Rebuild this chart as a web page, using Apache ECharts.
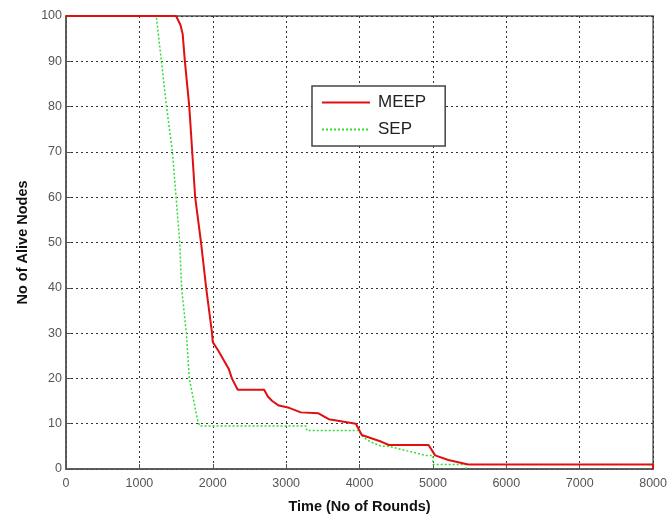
<!DOCTYPE html>
<html><head><meta charset="utf-8">
<script src="https://cdn.jsdelivr.net/npm/echarts@6/dist/echarts.min.js"></script>
<style>html,body{margin:0;padding:0;background:#fff}#c{width:670px;height:519px}</style>
</head><body><div id="c"></div>
<script>
var xTicks = [0,1000,2000,3000,4000,5000,6000,7000,8000];
var yTicks = [0,10,20,30,40,50,60,70,80,90,100];
var meepRounds = [0,1500,1560,1590,1620,1680,1720,1760,1840,1910,1990,2000,2080,2150,2220,2260,2340,2700,2750,2810,2900,3040,3200,3440,3580,3950,4030,4120,4300,4400,4940,5030,5210,5480,8000,8000];
var meepAlive  = [100,100,98,96,90,80,70,60,50,40,30,28,26,24,22,20,17.5,17.5,16,15,14,13.5,12.5,12.3,11,10,7.5,7,6,5.3,5.3,3,2,1,1,0];
var sepRounds = [0,1230,1300,1370,1450,1500,1550,1575,1640,1680,1790,1820,3270,3280,3990,4050,4150,4300,4400,4650,4900,5000,5000,5450,5450];
var sepAlive  = [100,100,90,80,70,60,50,40,30,20,11,9.5,9.5,8.5,8.5,7,6,5,5,4,3,3,1,1,0];

function pairs(xs, ys){ var o=[]; for(var i=0;i<xs.length;i++) o.push([xs[i],ys[i]]); return o; }

var chart = echarts.init(document.getElementById('c'), null, {renderer:'canvas'});
var tickFont = {color:'#555', fontFamily:'Liberation Sans, Arial, sans-serif', fontSize:12.5};
chart.setOption({
  animation:false,
  backgroundColor:'#fff',
  grid:{left:66,right:14,top:16,bottom:50,show:true,borderColor:'#555',borderWidth:1.5,backgroundColor:'#fff'},
  legend:{
    orient:'vertical', left:312, top:86,
    backgroundColor:'#fff', borderColor:'#444', borderWidth:1.5,
    padding:[8,19,8,9], itemGap:10, itemWidth:48, itemHeight:16,
    itemStyle:{opacity:0},
    textStyle:{color:'#222', fontSize:17, fontFamily:'Liberation Sans, Arial, sans-serif', padding:[0,0,0,3]},
    data:['MEEP','SEP']
  },
  xAxis:{
    type:'value', min:0, max:8000, interval:1000,
    name:'Time (No of Rounds)', nameLocation:'middle', nameGap:30,
    nameTextStyle:{color:'#111', fontSize:14.5, fontWeight:'bold', fontFamily:'Liberation Sans, Arial, sans-serif'},
    axisLine:{show:true,lineStyle:{color:'#555',width:1.5}},
    axisTick:{show:true,inside:true,length:5,lineStyle:{color:'#555'}},
    axisLabel:Object.assign({margin:8,formatter:function(v){return xTicks.indexOf(v)>=0?String(v):'';}},tickFont),
    splitLine:{show:true,lineStyle:{color:'#333',type:[2,3],width:1}}
  },
  yAxis:{
    type:'value', min:0, max:100, interval:10,
    name:'No of Alive Nodes', nameLocation:'middle', nameGap:29,
    nameTextStyle:{color:'#111', fontSize:14.5, fontWeight:'bold', fontFamily:'Liberation Sans, Arial, sans-serif'},
    axisLine:{show:true,lineStyle:{color:'#555',width:1.5}},
    axisTick:{show:true,inside:true,length:5,lineStyle:{color:'#555'}},
    axisLabel:Object.assign({margin:4,formatter:function(v){return yTicks.indexOf(v)>=0?String(v):'';}},tickFont),
    splitLine:{show:true,lineStyle:{color:'#333',type:[2,3],width:1}}
  },
  series:[
    {name:'SEP', type:'line', showSymbol:false, symbol:'none', z:3,
     lineStyle:{color:'#33dd33', width:1.5, type:[2,2]}, itemStyle:{color:'#33dd33'},
     data:pairs(sepRounds, sepAlive)},
    {name:'MEEP', type:'line', showSymbol:false, symbol:'none', z:4,
     lineStyle:{color:'#e01010', width:2}, itemStyle:{color:'#e01010'},
     data:pairs(meepRounds, meepAlive)}
  ]
});
</script></body></html>
